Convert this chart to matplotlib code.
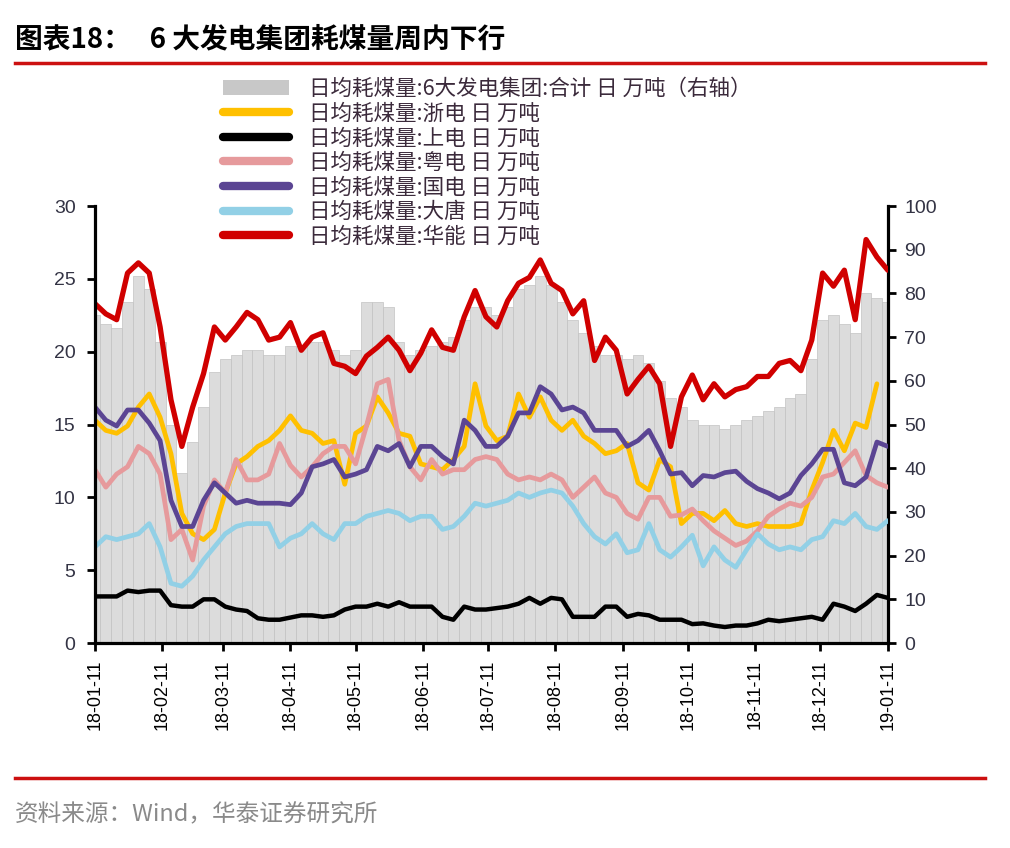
import matplotlib
matplotlib.use("Agg")
import matplotlib.pyplot as plt
import matplotlib.dates as mdates
from matplotlib.lines import Line2D
from matplotlib.patches import Patch
import numpy as np
import pandas as pd

plt.rcParams['font.family'] = ['Noto Sans CJK SC', 'DejaVu Sans']

dates = pd.date_range('2018-01-11', periods=74, freq='5D')

# 6大发电集团 合计, right axis (万吨)
total = [75, 73, 72, 78, 84, 81, 69, 50, 39, 46, 54, 62, 65, 66, 67, 67, 66, 66, 68,
         68, 69, 69, 67, 66, 67, 78, 78, 77, 69, 66, 67, 68, 69, 70, 74, 77, 77,
         75, 77, 81, 82, 84, 82, 78, 74, 71, 68, 66, 66, 65, 66, 64, 60, 56, 54,
         51, 50, 50, 49, 50, 51, 52, 53, 54, 56, 57, 65, 74, 75, 73, 71, 80, 79, 78]

zhedian = [15.3, 14.6, 14.4, 14.9, 16.2, 17.1, 15.5, 13.0, 8.9, 7.5, 7.1, 7.8, 10.3, 12.3, 12.8, 13.5, 13.9, 14.6, 15.6,
           14.6, 14.4, 13.7, 13.9, 10.9, 14.4, 14.9, 16.9, 15.8, 14.4, 14.2, 12.3, 12.1, 11.9, 12.6, 13.5, 17.8, 14.9,
           13.9, 14.2, 17.1, 15.5, 16.9, 15.3, 14.6, 15.3, 14.2, 13.7, 13.0, 13.2, 13.7, 11.0, 10.5, 12.6, 12.1, 8.2,
           8.9, 8.9, 8.4, 9.1, 8.2, 8.0, 8.2, 8.0, 8.0, 8.0, 8.2, 10.5, 12.4, 14.6, 13.2, 15.1, 14.8, 17.8, np.nan]

shangdian = [3.2, 3.2, 3.2, 3.6, 3.5, 3.6, 3.6, 2.6, 2.5, 2.5, 3.0, 3.0, 2.5, 2.3, 2.2, 1.7, 1.6, 1.6, 1.75,
             1.9, 1.9, 1.8, 1.9, 2.3, 2.5, 2.5, 2.7, 2.5, 2.8, 2.5, 2.5, 2.5, 1.8, 1.6, 2.5, 2.3, 2.3,
             2.4, 2.5, 2.7, 3.1, 2.7, 3.1, 3.0, 1.8, 1.8, 1.8, 2.5, 2.5, 1.8, 2.0, 1.9, 1.6, 1.6, 1.6,
             1.3, 1.35, 1.2, 1.1, 1.2, 1.2, 1.35, 1.6, 1.5, 1.6, 1.7, 1.8, 1.6, 2.7, 2.5, 2.2, 2.7, 3.3, 3.1]

yuedian = [11.9, 10.7, 11.6, 12.1, 13.5, 13.0, 11.6, 7.1, 7.8, 5.7, 9.4, 11.2, 10.3, 12.6, 11.2, 11.2, 11.6, 13.7, 12.2,
           11.4, 12.1, 13.0, 13.5, 13.5, 12.3, 14.9, 17.8, 18.1, 13.9, 12.1, 11.2, 12.6, 11.6, 11.9, 11.9, 12.6, 12.8,
           12.6, 11.6, 11.2, 11.4, 11.2, 11.6, 11.2, 10.0, 10.7, 11.4, 10.3, 10.0, 8.9, 8.5, 10.0, 10.0, 8.7, 8.8,
           9.2, 8.4, 7.7, 7.2, 6.7, 7.0, 7.7, 8.7, 9.2, 9.6, 9.4, 10.0, 11.4, 11.6, 12.4, 13.2, 11.5, 11.0, 10.7]

guodian = [16.2, 15.3, 14.9, 16.0, 16.0, 15.1, 13.9, 9.8, 8.0, 8.0, 9.8, 11.0, 10.3, 9.6, 9.8, 9.6, 9.6, 9.6, 9.5,
           10.3, 12.1, 12.3, 12.6, 11.4, 11.6, 11.9, 13.5, 13.2, 13.7, 12.1, 13.5, 13.5, 12.8, 12.3, 15.3, 14.6, 13.5,
           13.5, 14.2, 15.8, 15.8, 17.6, 17.1, 16.0, 16.2, 15.8, 14.6, 14.6, 14.6, 13.5, 13.9, 14.6, 13.2, 11.6, 11.7,
           10.8, 11.5, 11.4, 11.7, 11.8, 11.1, 10.6, 10.3, 9.9, 10.3, 11.5, 12.3, 13.3, 13.3, 11.0, 10.8, 11.4, 13.8, 13.5]

datang = [6.6, 7.3, 7.1, 7.3, 7.5, 8.2, 6.6, 4.1, 3.9, 4.6, 5.7, 6.6, 7.5, 8.0, 8.2, 8.2, 8.2, 6.6, 7.2,
          7.5, 8.2, 7.5, 7.1, 8.2, 8.2, 8.7, 8.9, 9.1, 8.9, 8.4, 8.7, 8.7, 7.8, 8.0, 8.7, 9.6, 9.4,
          9.6, 9.8, 10.3, 10.0, 10.3, 10.5, 10.3, 9.4, 8.2, 7.3, 6.8, 7.5, 6.2, 6.4, 8.2, 6.4, 5.9, 6.6,
          7.4, 5.3, 6.6, 5.7, 5.2, 6.4, 7.5, 6.8, 6.4, 6.6, 6.4, 7.1, 7.3, 8.4, 8.2, 8.9, 8.0, 7.8, 8.4]

huaneng = [23.3, 22.6, 22.2, 25.4, 26.1, 25.4, 21.7, 16.7, 13.5, 16.2, 18.5, 21.7, 20.8, 21.7, 22.7, 22.2, 20.8, 21.0, 22.0,
           20.1, 21.0, 21.3, 19.2, 19.0, 18.5, 19.7, 20.3, 21.0, 20.1, 18.7, 19.9, 21.5, 20.3, 20.1, 22.4, 24.2, 22.4,
           21.7, 23.5, 24.7, 25.1, 26.3, 24.7, 24.2, 22.6, 23.5, 19.4, 21.0, 20.1, 17.1, 18.1, 19.0, 17.8, 13.5, 16.9,
           18.4, 16.7, 17.8, 16.9, 17.4, 17.6, 18.3, 18.3, 19.2, 19.4, 18.7, 20.8, 25.4, 24.5, 25.6, 22.2, 27.7, 26.5, 25.6]

series = [
    ('日均耗煤量:浙电 日 万吨', zhedian, '#FFC000', 3.4),
    ('日均耗煤量:上电 日 万吨', shangdian, '#000000', 3.2),
    ('日均耗煤量:粤电 日 万吨', yuedian, '#E69A9C', 3.4),
    ('日均耗煤量:国电 日 万吨', guodian, '#5B4593', 3.4),
    ('日均耗煤量:大唐 日 万吨', datang, '#92D0E6', 3.4),
    ('日均耗煤量:华能 日 万吨', huaneng, '#D00000', 3.8),
]
total_label = '日均耗煤量:6大发电集团:合计 日 万吨（右轴）'

tick_color = '#333344'

fig = plt.figure(figsize=(10.1, 8.48), dpi=100)
ax1 = fig.add_axes([0.094, 0.2417, 0.785, 0.5153])
ax2 = ax1.twinx()

ax2.bar(dates, total, width=5, color='#dcdcdc', edgecolor='#c2c2c2', linewidth=0.5)
ax2.set_ylim(0, 100)
ax2.set_yticks(range(0, 101, 10))

for label, vals, color, lw in series:
    ax1.plot(dates, vals, color=color, lw=lw, solid_capstyle='round')

ax1.set_zorder(ax2.get_zorder() + 1)
ax1.patch.set_visible(False)

ax1.set_ylim(0, 30)
ax1.set_yticks(range(0, 31, 5))
ax1.set_xlim(pd.Timestamp('2018-01-11'), pd.Timestamp('2019-01-11'))
ax1.xaxis.set_major_locator(mdates.MonthLocator(bymonthday=11))
ax1.xaxis.set_major_formatter(mdates.DateFormatter('%y-%m-%d'))

for ax in (ax1, ax2):
    ax.spines['top'].set_visible(False)
    for s in ax.spines.values():
        s.set_linewidth(2.3)
ax1.spines['right'].set_visible(False)
ax2.spines['left'].set_visible(False)
ax2.spines['bottom'].set_visible(False)

ax1.tick_params(axis='y', direction='out', length=6, width=2, labelsize=14,
                labelcolor=tick_color, pad=8)
ax1.tick_params(axis='x', direction='out', length=6, width=2, labelsize=13,
                labelrotation=90, pad=6)
ax2.tick_params(axis='y', direction='out', length=6, width=2, labelsize=14,
                labelcolor=tick_color, pad=6)
for lab in ax1.get_xticklabels() + ax1.get_yticklabels() + ax2.get_yticklabels():
    lab.set_family(['Liberation Sans', 'DejaVu Sans'])

handles = [Patch(facecolor='#c8c8c8', edgecolor='none')]
labels = [total_label]
for label, vals, color, lw in series:
    handles.append(Line2D([], [], color=color, lw=6, solid_capstyle='round'))
    labels.append(label)
fig.legend(handles, labels, loc='upper left', bbox_to_anchor=(0.212, 0.918),
           frameon=False, fontsize=15.5, handlelength=3.1, handletextpad=0.9,
           labelspacing=0.12, borderaxespad=0, labelcolor='#3b2a3b')

fig.text(0.015, 0.953, '图表18：   6 大发电集团耗煤量周内下行', fontsize=20,
         fontweight='bold', va='center', ha='left')
fig.add_artist(Line2D([0.015, 0.975], [0.926, 0.926], transform=fig.transFigure,
                      color='#cc1010', lw=2.5))
fig.add_artist(Line2D([0.015, 0.975], [0.0825, 0.0825], transform=fig.transFigure,
                      color='#cc1010', lw=2.5))
fig.text(0.015, 0.039, '资料来源：Wind，华泰证券研究所', fontsize=17,
         color='#8a8a8a', va='center', ha='left')

fig.savefig('out.png', dpi=100)
